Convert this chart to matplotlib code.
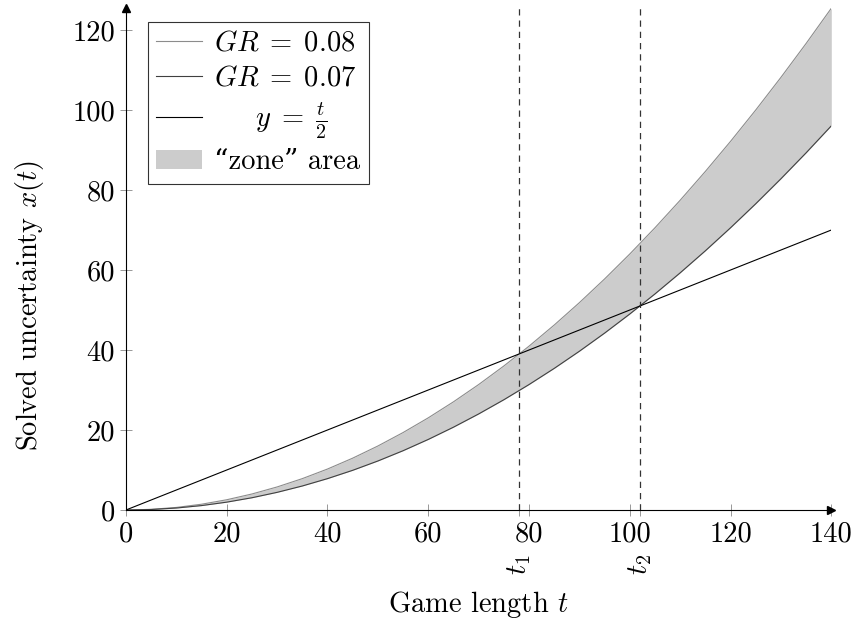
import numpy as np
import matplotlib.pyplot as plt

plt.rcParams['font.family'] = ['cmr10', 'DejaVu Serif']
plt.rcParams['mathtext.fontset'] = 'cm'
plt.rcParams['axes.formatter.use_mathtext'] = True

# game length samples and solved uncertainty for each growth rate
t = [0, 5, 10, 15, 20, 25, 30, 35, 40, 45, 50, 55, 60, 65, 70, 75, 80, 85, 90,
     95, 100, 105, 110, 115, 120, 125, 130, 135, 140]
x_gr08 = [0, 0.16, 0.64, 1.44, 2.56, 4.0, 5.76, 7.84, 10.24, 12.96, 16.0,
          19.36, 23.04, 27.04, 31.36, 36.0, 40.96, 46.24, 51.84, 57.76, 64.0,
          70.56, 77.44, 84.64, 92.16, 100.0, 108.16, 116.64, 125.44]
x_gr07 = [0, 0.12, 0.49, 1.10, 1.96, 3.06, 4.41, 6.00, 7.84, 9.92, 12.25,
          14.82, 17.64, 20.70, 24.01, 27.56, 31.36, 35.40, 39.69, 44.22, 49.0,
          54.02, 59.29, 64.80, 70.56, 76.56, 82.81, 89.30, 96.04]
line_t = [0, 140]
half_t = [0, 70]

# crossing points with y = t/2
t1 = 78.1
t2 = 102.0

xticks = [0, 20, 40, 60, 80, 100, 120, 140]
yticks = [0, 20, 40, 60, 80, 100, 120]

fig = plt.figure(figsize=(8.57, 6.34), dpi=100)
ax = fig.add_axes([0.147, 0.1956, 0.823, 0.7917])

fs = 20.5
ax.fill_between(t, x_gr07, x_gr08, color='#cccccc', lw=0, label='\u201czone\u201d area')
ax.plot(t, x_gr08, color='#8c8c8c', lw=0.8, label=r'$GR\;=\;0.08$')
ax.plot(t, x_gr07, color='#404040', lw=0.8, label=r'$GR\;=\;0.07$')
ax.plot(line_t, half_t, color='black', lw=0.8, label=r'$\quad\ \ y\;=\;\frac{t}{2}$')

ax.axvline(t1, color='#333333', lw=0.9, ls=(0, (5, 4)))
ax.axvline(t2, color='#333333', lw=0.9, ls=(0, (5, 4)))

ax.set_xlim(0, 140)
ax.set_ylim(0, 125.5)
ax.spines['top'].set_visible(False)
ax.spines['right'].set_visible(False)
ax.spines['left'].set_linewidth(0.8)
ax.spines['bottom'].set_linewidth(0.8)

# arrow heads on the axes
ax.plot(1, 0, '>', color='black', ms=6, transform=ax.transAxes, clip_on=False)
ax.plot(0, 1, '^', color='black', ms=6, transform=ax.transAxes, clip_on=False)

ax.set_xticks(xticks + [t1, t2])
ax.set_xticklabels([str(v) for v in xticks] + ['', ''])
ax.set_yticks(yticks)
ax.set_yticklabels([str(v) for v in yticks])
ax.tick_params(direction='inout', length=8, width=0.6, color='#888888',
               labelsize=fs, pad=4)

for tv, lab in [(t1, '$t_1$'), (t2, '$t_2$')]:
    ax.text(tv, -0.088, lab, rotation=90, ha='center', va='top', fontsize=fs,
            transform=ax.get_xaxis_transform())

fig.text(0.558, 0.046, 'Game length $t$', fontsize=fs, ha='center', va='center')
fig.text(0.035, 0.519, 'Solved uncertainty $x(t)$', fontsize=fs, ha='center',
         va='center', rotation=90)

h, l = ax.get_legend_handles_labels()
order = [1, 2, 3, 0]
leg = ax.legend([h[i] for i in order], [l[i] for i in order], loc='upper left',
                bbox_to_anchor=(0.031, 0.972), borderaxespad=0, fontsize=fs,
                frameon=True, fancybox=False, edgecolor='black',
                handlelength=1.6, handletextpad=0.42, labelspacing=0.3,
                borderpad=0.3)
leg.get_frame().set_linewidth(0.8)

fig.savefig('out.png', dpi=100)
